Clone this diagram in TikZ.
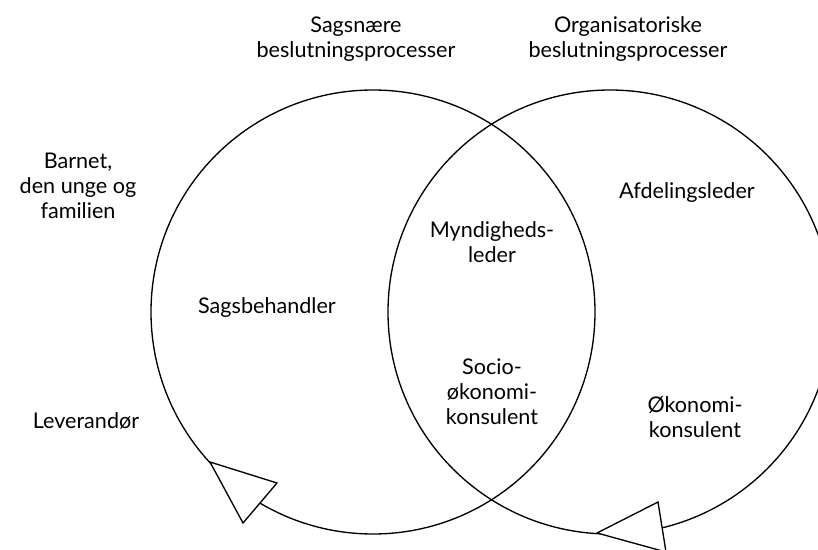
\documentclass[tikz,border=0pt]{standalone}
\usepackage{fontspec}
\setmainfont{Lato}
\usepackage{tikz}

\begin{document}
\begin{tikzpicture}[x=0.75pt,y=0.75pt,yscale=-1,xscale=1,
  lbl/.style={inner sep=0pt,anchor=base,align=center,font=\fontsize{16.2}{18.75}\selectfont},
  ring/.style={line width=1pt},
  tip/.style={line width=1pt,fill=white,line join=miter}]
\useasboundingbox (0,0) rectangle (818,550);
\clip (0,0) rectangle (818,550);

%Shape: Circle left
\draw [ring] (373,312) circle (222);
%Shape: Circle right
\draw [ring] (610,312) circle (222);
%Shape: Triangle left
\draw [tip] (210,462) -- (277,483) -- (243,523) -- cycle;
%Shape: Triangle right
\draw [tip] (597,533) -- (658,502) -- (666,552) -- cycle;

% Text Node
\node [lbl] (sagsnaere) at (356,57) {Sagsnære\\beslutningsprocesser};
% Text Node
\node [lbl] (organisatoriske) at (628,57) {Organisatoriske\\beslutningsprocesser};
% Text Node
\node [lbl] (barnet) at (78,218) {Barnet,\\den unge og\\familien};
% Text Node
\node [lbl] (leverandoer) at (86,428) {Leverandør};
% Text Node
\node [lbl] (sagsbehandler) at (267,313) {Sagsbehandler};
% Text Node
\node [lbl] (myndighed) at (492,262) {Myndigheds-\\leder};
% Text Node
\node [lbl] (socio) at (492,424) {Socio-\\økonomi-\\konsulent};
% Text Node
\node [lbl] (afdeling) at (687,198) {Afdelingsleder};
% Text Node
\node [lbl] (oekonomi) at (695,437) {Økonomi-\\konsulent};

\end{tikzpicture}
\end{document}
